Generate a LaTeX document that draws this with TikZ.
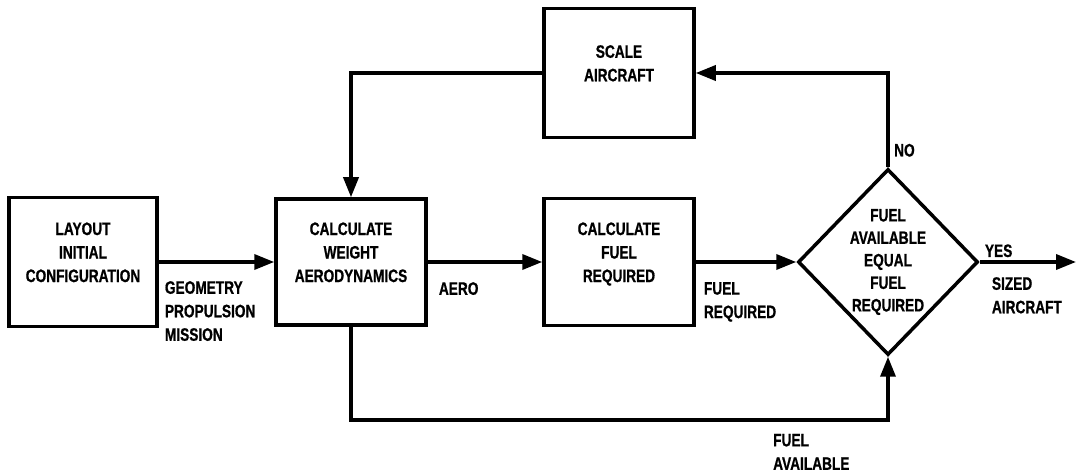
\documentclass[tikz,border=0pt]{standalone}
\usepackage{fontspec}
\setmainfont{Liberation Sans}[FakeStretch=0.76, FakeBold=0.8]
\usepackage{tikz}
\usetikzlibrary{arrows.meta, positioning, calc, shapes.geometric}
\tikzstyle{arrow} = [line width=3.5pt,-{Triangle[length=20pt,width=15pt]}]
\tikzstyle{wire} = [line width=3.5pt]

\begin{document}
\begin{tikzpicture}[node distance=268pt, on grid,
    font=\bfseries\fontsize{18}{23.5}\selectfont]
        \tikzstyle{block}=[
            rectangle,
            draw,
            line width=3.5pt,
            minimum width=150pt,
            minimum height=127pt,
            inner sep=0pt,
            align=center
        ]
        \tikzstyle{decision}=[
            diamond,
            draw,
            line width=3.5pt,
            minimum width=180pt,
            minimum height=186pt,
            inner sep=-16pt,
            align=center,
            font=\bfseries\fontsize{18}{22.5}\selectfont
        ]
        \tikzstyle{lbl}=[inner sep=0pt, align=left]

        \useasboundingbox (0,0) rectangle (1076pt,474pt);

        \node[block, minimum width=148pt, minimum height=129pt] (layout) at (83pt,212pt)
            {LAYOUT\\INITIAL\\CONFIGURATION\\[-4pt]};
        \node[block, minimum height=126pt] (calc) [right=of layout]
            {CALCULATE\\WEIGHT\\AERODYNAMICS\\[-4pt]};
        \node[block] (fuel) [right=of calc] {CALCULATE\\FUEL\\REQUIRED\\[-4pt]};
        \node[block, minimum height=129pt] (scale) [above=189pt of fuel] {SCALE\\AIRCRAFT\\[-4pt]};
        \node[decision] (check) [right=269pt of fuel]
            {FUEL\\AVAILABLE\\EQUAL\\FUEL\\REQUIRED};

        \coordinate (sized) at (1076pt,212pt);
        \coordinate (bend) at ([yshift=-93pt]calc.south);

        \draw[arrow] (layout) -- (calc);
        \draw[arrow] (calc) -- (fuel);
        \draw[arrow] (fuel) -- (check);
        \draw[arrow] (check.east) -- (sized);
        \draw[arrow] (check.north) |- (scale.east);
        \draw[arrow] (scale.west) -| (calc.north);
        \draw[arrow] (calc.south) -- (bend) -| (check.south);

        % connector labels
        \node[lbl, anchor=north west] (geo) at ($(layout.east)+(6pt,-19pt)$)
            {GEOMETRY\\PROPULSION\\MISSION};
        \node[lbl, anchor=north west] (aero) at ($(calc.east)+(11pt,-20pt)$) {AERO};
        \node[lbl, anchor=north west] (req) at ($(fuel.east)+(8pt,-20pt)$)
            {FUEL\\REQUIRED};
        \node[lbl, anchor=north west] (avail) at ($(bend -| check.south)+(-115pt,-14pt)$)
            {FUEL\\AVAILABLE};
        \node[lbl, anchor=base west] (yes) at ($(check.east)+(5pt,5pt)$) {YES};
        \node[lbl, anchor=north west] (done) at ($(check.east)+(12pt,-15pt)$)
            {SIZED\\AIRCRAFT};
        \node[lbl, anchor=west] (no) at ($(check.north)+(6pt,17pt)$) {NO};
\end{tikzpicture}
\end{document}
